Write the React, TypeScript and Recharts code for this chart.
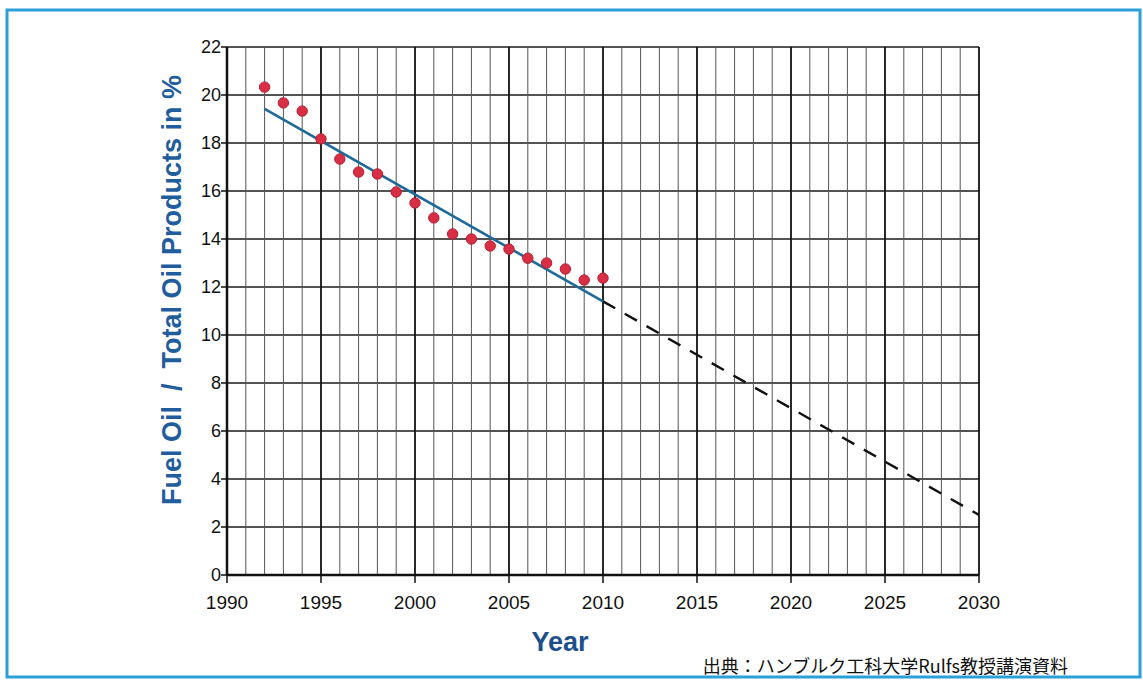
import React from 'react';
import {
  ComposedChart, XAxis, YAxis, CartesianGrid, ReferenceLine, Line, Scatter,
} from 'recharts';

const obsYears = [1992, 1993, 1994, 1995, 1996, 1997, 1998, 1999, 2000, 2001, 2002, 2003, 2004, 2005, 2006, 2007, 2008, 2009, 2010];
const obsShares = [20.33, 19.67, 19.33, 18.17, 17.33, 16.79, 16.71, 15.96, 15.5, 14.88, 14.21, 14.0, 13.71, 13.58, 13.2, 13.0, 12.75, 12.29, 12.37];

const trendYears = [1992, 2010];
const trendValues = [19.42, 11.4];
const forecastYears = [2010, 2030];
const forecastValues = [11.4, 2.5];

const xTicks = [1990, 1995, 2000, 2005, 2010, 2015, 2020, 2025, 2030];
const yTicks = [0, 2, 4, 6, 8, 10, 12, 14, 16, 18, 20, 22];
const gridYears = Array.from({ length: 41 }, (_, i) => 1990 + i);

const yTitle = 'Fuel Oil  /  Total Oil Products in %';
const xTitle = 'Year';
const sourceNote = '出典：ハンブルク工科大学Rulfs教授講演資料';

const obsData = obsYears.map((year, i) => ({ year, v: obsShares[i] }));
const trendData = trendYears.map((year, i) => ({ year, v: trendValues[i] }));
const forecastData = forecastYears.map((year, i) => ({ year, v: forecastValues[i] }));

const Dot = (props: any) => {
  const { cx, cy } = props;
  if (cx == null || cy == null) return null;
  return <circle cx={cx} cy={cy} r={5.2} fill="#d92f45" stroke="#b51e32" strokeWidth={1} />;
};

const AX = 'Arial, "Liberation Sans", sans-serif';

export default function App() {
  return (
    <div style={{ position: 'absolute', left: 0, top: 0, width: 1143, height: 680, background: '#fff', fontFamily: AX }}>
      <svg width={1143} height={680} style={{ position: 'absolute', left: 0, top: 0 }}>
        <rect x={7} y={10} width={1133} height={667} fill="none" stroke="#2a9fd8" strokeWidth={3} />
        <text x={172} y={290} transform="rotate(-90 172 290)" textAnchor="middle" dominantBaseline="central"
          style={{ whiteSpace: 'pre' }} fontFamily={AX} fontWeight="bold" fontSize={27} fill="#1f5d9c">
          {yTitle}
        </text>
        <text x={560} y={642} textAnchor="middle" dominantBaseline="central"
          fontFamily={AX} fontWeight="bold" fontSize={27} fill="#1c4f8c">
          {xTitle}
        </text>
        <text x={1068} y={665} textAnchor="end" dominantBaseline="central"
          fontFamily='"Noto Sans CJK JP", sans-serif' fontSize={18} fill="#111">
          {sourceNote}
        </text>
      </svg>
      <div style={{ position: 'absolute', left: 0, top: 0 }}>
        <ComposedChart width={1143} height={680} margin={{ top: 47, right: 164, left: 187, bottom: 65 }}>
          <CartesianGrid vertical={false} horizontal stroke="#1a1a1a" strokeWidth={1.5} />
          <XAxis type="number" dataKey="year" domain={[1990, 2030]} ticks={xTicks} allowDataOverflow
            height={40} tickSize={8} tickMargin={13} interval={0}
            axisLine={{ stroke: '#111', strokeWidth: 2.5 }} tickLine={{ stroke: '#111', strokeWidth: 1.5 }}
            tick={{ fill: '#111', fontSize: 19, fontFamily: AX }} />
          <YAxis type="number" domain={[0, 22]} ticks={yTicks} allowDataOverflow width={40}
            tickSize={6} tickMargin={0} interval={0}
            axisLine={{ stroke: '#111', strokeWidth: 2.5 }} tickLine={{ stroke: '#111', strokeWidth: 1.5 }}
            tick={{ fill: '#111', fontSize: 18, fontFamily: AX }} />
          {gridYears.map((yr) => (
            <ReferenceLine key={yr} x={yr}
              stroke={yr % 5 === 0 ? '#111' : '#555'}
              strokeWidth={yr % 5 === 0 ? 1.8 : 1} />
          ))}
          <Line data={trendData} dataKey="v" type="linear" stroke="#1d6a9a" strokeWidth={2.6} dot={false} isAnimationActive={false} />
          <Line data={forecastData} dataKey="v" type="linear" stroke="#111" strokeWidth={2.4} strokeDasharray="14 11" dot={false} isAnimationActive={false} />
          <Scatter data={obsData} dataKey="v" shape={Dot} isAnimationActive={false} />
        </ComposedChart>
      </div>
    </div>
  );
}
